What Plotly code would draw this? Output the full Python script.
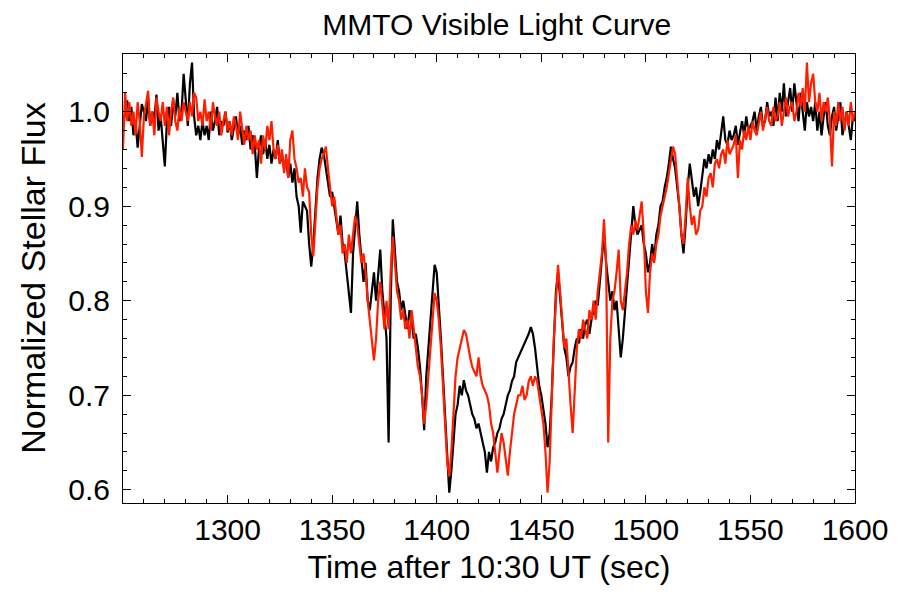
import plotly.graph_objects as go

time_sec = list(range(1250, 1601))

flux_black = [
    0.985, 0.998, 1.012, 0.990, 1.005, 0.975, 0.990, 0.962, 0.985, 1.008,
    1.000, 0.990, 1.015, 0.985, 1.000, 0.992, 1.018, 0.980, 0.995, 0.970,
    0.942, 0.990, 1.005, 0.985, 1.012, 0.995, 1.020, 0.990, 1.000, 1.040,
    1.010, 0.985, 1.030, 1.052, 0.995, 0.975, 0.985, 0.970, 0.990, 0.975,
    0.985, 0.970, 1.000, 0.980, 0.990, 1.005, 0.975, 0.990, 0.985, 1.000,
    0.978, 0.990, 0.970, 0.985, 0.995, 0.975, 0.985, 0.965, 0.980, 0.970,
    0.985, 0.960, 0.975, 0.965, 0.930, 0.960, 0.975, 0.955, 0.970, 0.950,
    0.965, 0.945, 0.960, 0.950, 0.970, 0.945, 0.955, 0.940, 0.950, 0.930,
    0.945, 0.925, 0.940, 0.910, 0.900, 0.872, 0.905, 0.900, 0.895, 0.860,
    0.836, 0.860, 0.900, 0.930, 0.950, 0.962, 0.955, 0.940, 0.930, 0.910,
    0.915, 0.900, 0.880, 0.870, 0.890, 0.860, 0.850, 0.830, 0.810, 0.787,
    0.850, 0.880, 0.905, 0.870, 0.845, 0.820, 0.840, 0.800, 0.790, 0.810,
    0.830, 0.800, 0.830, 0.854, 0.810, 0.780, 0.760, 0.650, 0.800, 0.886,
    0.850, 0.820, 0.810, 0.790, 0.800, 0.785, 0.770, 0.790, 0.780, 0.760,
    0.765, 0.750, 0.730, 0.700, 0.663, 0.720, 0.750, 0.780, 0.810, 0.838,
    0.830, 0.800, 0.760, 0.720, 0.680, 0.640, 0.597, 0.620, 0.650, 0.680,
    0.690, 0.710, 0.700, 0.716, 0.705, 0.700, 0.690, 0.680, 0.675, 0.665,
    0.670, 0.660, 0.650, 0.640, 0.618, 0.640, 0.630, 0.645, 0.650, 0.660,
    0.665, 0.675, 0.680, 0.690, 0.700, 0.705, 0.715, 0.720, 0.735, 0.740,
    0.745, 0.750, 0.755, 0.760, 0.765, 0.772, 0.765, 0.750, 0.730, 0.710,
    0.700, 0.685, 0.670, 0.645, 0.660, 0.700, 0.760, 0.810, 0.830, 0.800,
    0.770, 0.750, 0.740, 0.720, 0.730, 0.735, 0.750, 0.760, 0.755, 0.770,
    0.760, 0.775, 0.780, 0.765, 0.780, 0.790, 0.800, 0.795, 0.820, 0.840,
    0.870, 0.840, 0.820, 0.800, 0.810, 0.790, 0.800, 0.770, 0.740, 0.760,
    0.790, 0.820, 0.850, 0.870, 0.900, 0.880, 0.870, 0.875, 0.880, 0.860,
    0.850, 0.830, 0.840, 0.860, 0.845, 0.870, 0.880, 0.900, 0.905, 0.920,
    0.930, 0.945, 0.963, 0.950, 0.940, 0.920, 0.900, 0.870, 0.850, 0.880,
    0.920, 0.945, 0.930, 0.910, 0.920, 0.900, 0.915, 0.930, 0.950, 0.940,
    0.955, 0.945, 0.960, 0.950, 0.970, 0.960, 0.975, 0.995, 0.970, 0.965,
    0.980, 0.970, 0.975, 0.985, 0.965, 0.980, 0.990, 0.975, 0.995, 0.980,
    0.985, 0.990, 1.000, 0.980, 0.995, 1.005, 0.985, 0.990, 1.010, 0.995,
    1.000, 0.985, 1.015, 0.990, 1.020, 1.000, 1.030, 0.995, 1.010, 1.025,
    1.000, 1.030, 1.010, 0.990, 1.020, 1.000, 0.980, 1.010, 0.995, 1.005,
    0.990, 1.010, 0.980, 1.000, 0.975, 0.995, 1.010, 0.985, 0.975, 0.995,
    1.005, 0.980, 0.995, 1.010, 0.975, 0.990, 1.000, 0.985, 0.970, 0.995,
    0.990,
]

flux_red = [
    0.960, 1.020, 0.990, 1.010, 0.985, 1.000, 0.975, 1.010, 0.990, 0.952,
    0.995, 1.010, 1.022, 0.985, 1.000, 0.975, 1.015, 1.000, 0.990, 1.010,
    0.985, 1.005, 0.975, 1.000, 1.015, 0.990, 0.980, 1.005, 0.990, 1.010,
    1.000, 0.990, 1.010, 0.995, 1.020, 1.015, 0.990, 1.000, 0.985, 1.013,
    0.990, 1.000, 0.980, 1.010, 0.995, 0.985, 1.000, 0.975, 0.990, 1.000,
    0.980, 0.990, 0.975, 0.995, 0.985, 0.970, 1.000, 0.980, 0.965, 0.985,
    0.970, 0.980, 0.955, 0.975, 0.960, 0.970, 0.945, 0.975, 0.960, 0.985,
    0.970, 0.990, 0.960, 0.950, 0.965, 0.945, 0.960, 0.935, 0.955, 0.930,
    0.970, 0.980, 0.950, 0.940, 0.925, 0.930, 0.910, 0.940, 0.920, 0.915,
    0.870, 0.847, 0.880, 0.920, 0.940, 0.950, 0.955, 0.963, 0.940, 0.920,
    0.900, 0.910, 0.890, 0.870, 0.880, 0.850, 0.860, 0.840, 0.870, 0.850,
    0.870, 0.890, 0.880, 0.860, 0.840, 0.850, 0.830, 0.800, 0.780, 0.760,
    0.737, 0.760, 0.800, 0.820, 0.790, 0.770, 0.800, 0.770, 0.830, 0.868,
    0.840, 0.810, 0.800, 0.780, 0.790, 0.770, 0.780, 0.760, 0.790, 0.770,
    0.750, 0.730, 0.720, 0.700, 0.670, 0.690, 0.720, 0.750, 0.780, 0.808,
    0.800, 0.780, 0.750, 0.710, 0.670, 0.630, 0.614, 0.640, 0.680, 0.720,
    0.740, 0.750, 0.760, 0.769, 0.765, 0.750, 0.740, 0.730, 0.725, 0.720,
    0.740, 0.720, 0.710, 0.705, 0.700, 0.690, 0.670, 0.660, 0.640, 0.618,
    0.640, 0.660, 0.650, 0.630, 0.615, 0.640, 0.660, 0.680, 0.690, 0.700,
    0.700, 0.710, 0.695, 0.700, 0.715, 0.720, 0.710, 0.720, 0.715, 0.700,
    0.690, 0.670, 0.640, 0.597, 0.630, 0.700, 0.760, 0.800, 0.838, 0.810,
    0.780, 0.750, 0.760, 0.720, 0.690, 0.660, 0.710, 0.750, 0.770, 0.760,
    0.780, 0.770, 0.760, 0.790, 0.780, 0.800, 0.780, 0.810, 0.830, 0.850,
    0.886, 0.840, 0.650, 0.760, 0.800, 0.810, 0.830, 0.854, 0.800, 0.790,
    0.810, 0.830, 0.860, 0.880, 0.870, 0.885, 0.875, 0.890, 0.905, 0.870,
    0.810, 0.787, 0.830, 0.850, 0.840, 0.860, 0.870, 0.890, 0.900, 0.910,
    0.920, 0.935, 0.950, 0.963, 0.955, 0.930, 0.900, 0.870, 0.860, 0.890,
    0.930, 0.900, 0.880, 0.890, 0.870, 0.875, 0.895, 0.900, 0.920, 0.910,
    0.930, 0.935, 0.920, 0.945, 0.950, 0.940, 0.955, 0.960, 0.945, 0.970,
    0.955, 0.960, 0.965, 0.975, 0.930, 0.970, 0.960, 0.980, 0.970, 0.985,
    0.970, 0.990, 0.980, 0.975, 0.990, 1.000, 0.980, 0.995, 1.005, 0.990,
    0.985, 1.005, 0.990, 0.995, 1.010, 0.985, 1.000, 1.015, 0.995, 1.005,
    1.010, 0.990, 1.000, 1.020, 1.005, 1.025, 1.000, 1.052, 1.010, 1.030,
    1.040, 1.010, 1.000, 1.020, 0.990, 1.010, 1.000, 1.015, 0.990, 0.942,
    1.000, 0.985, 1.010, 0.990, 1.005, 0.980, 1.000, 0.985, 1.010, 0.990,
    1.000,
]

x_tick_vals = [1300, 1350, 1400, 1450, 1500, 1550, 1600]
y_tick_vals = [0.6, 0.7, 0.8, 0.9, 1.0]

FONT = "Liberation Sans, Arial, Helvetica, sans-serif"

fig = go.Figure()
fig.add_trace(go.Scatter(x=time_sec, y=flux_black, mode="lines",
                         line=dict(color="black", width=2.2), showlegend=False))
fig.add_trace(go.Scatter(x=time_sec, y=flux_red, mode="lines",
                         line=dict(color="rgb(255,30,0)", width=2.2), showlegend=False))

axis_common = dict(
    showline=True, linecolor="black", linewidth=1, mirror="allticks",
    ticks="inside", ticklen=8, tickwidth=1, tickcolor="black",
    showgrid=False, zeroline=False, automargin=False,
    tickfont=dict(family=FONT, size=30, color="black"),
)

fig.update_xaxes(
    range=[1250, 1600], tickvals=x_tick_vals,
    minor=dict(dtick=10, tick0=1250, ticks="inside", ticklen=4, tickcolor="black", showgrid=False),
    title=dict(text="Time after 10:30 UT (sec)", font=dict(family=FONT, size=32, color="black"), standoff=10),
    ticklabelstandoff=0,
    **axis_common,
)
fig.update_yaxes(
    range=[0.586, 1.061], tickvals=y_tick_vals, tickformat=".1f",
    minor=dict(dtick=0.02, tick0=0.6, ticks="inside", ticklen=4, tickcolor="black", showgrid=False),
    ticklabelstandoff=6,
    **axis_common,
)

fig.update_layout(
    width=911, height=592,
    margin=dict(l=115, r=64, t=46, b=97),
    paper_bgcolor="white", plot_bgcolor="white",
    title=dict(text="MMTO Visible Light Curve", x=0.5365, xanchor="center", y=0.972, yanchor="middle",
               font=dict(family=FONT, size=30, color="black")),
    annotations=[dict(text="Normalized Stellar Flux", textangle=-90, xref="paper", yref="paper",
                      x=-0.124, y=0.5, xanchor="center", yanchor="middle", showarrow=False,
                      font=dict(family=FONT, size=34, color="black"))],
)

fig.write_html("out.html")
